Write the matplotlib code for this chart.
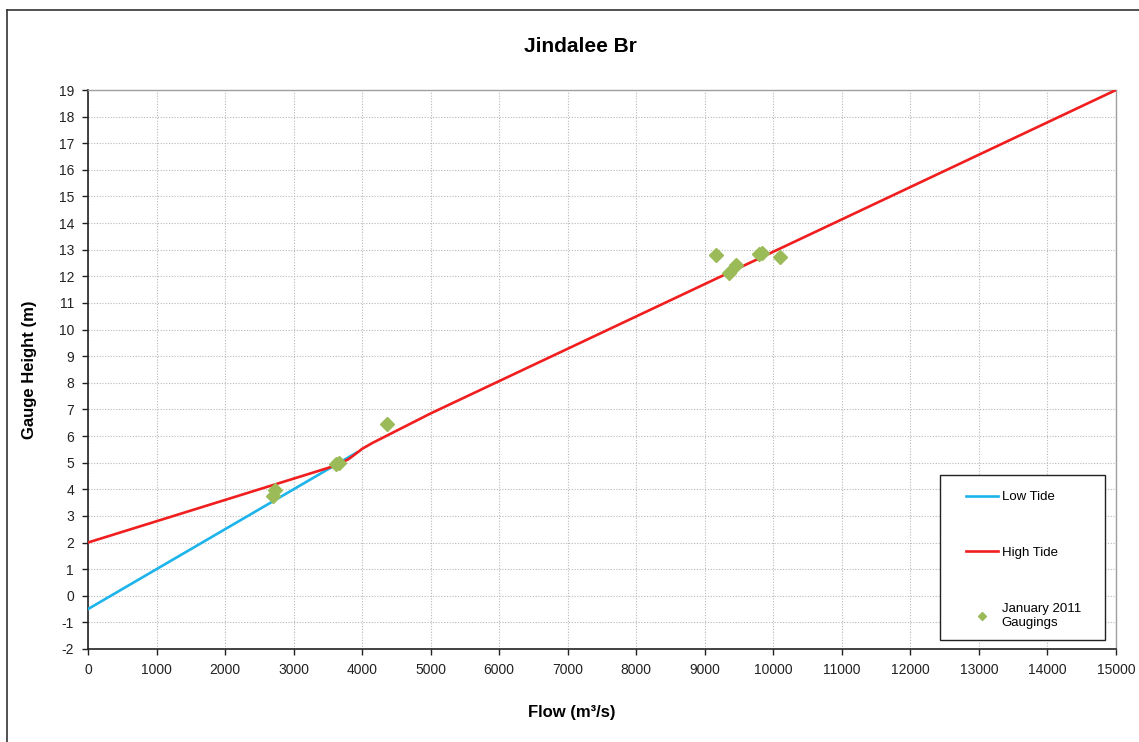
import matplotlib
matplotlib.use("Agg")
import matplotlib.pyplot as plt
from matplotlib.lines import Line2D
from matplotlib.patches import Rectangle

plt.rcParams['font.family'] = ['Liberation Sans', 'DejaVu Sans']
plt.rcParams['axes.unicode_minus'] = False

# Data
low_x = [0, 3920]
low_y = [-0.5, 5.38]
high_x = [0, 3000, 3500, 3650, 3800, 3900, 4000, 4150, 5000, 15000]
high_y = [2.0, 4.4, 4.8, 4.93, 5.13, 5.32, 5.52, 5.74, 6.85, 19.0]
gauge_x = [2700, 2730, 3620, 3660, 4360, 9160, 9360, 9460, 9790, 9830, 10100]
gauge_y = [3.75, 3.97, 4.95, 5.0, 6.44, 12.8, 12.12, 12.42, 12.84, 12.86, 12.74]
xticks = list(range(0, 15001, 1000))
yticks = list(range(-2, 20))

W, H = 1139, 742
fig = plt.figure(figsize=(W / 100, H / 100), dpi=100)
ax = fig.add_axes([88 / W, 1 - 649 / H, (1116 - 88) / W, (649 - 90) / H])

ax.plot(low_x, low_y, color='#1CB4EA', lw=1.9, label='Low Tide', zorder=3)
ax.plot(high_x, high_y, color='#F01E1E', lw=1.9, label='High Tide', zorder=4,
        solid_joinstyle='round')
ax.plot(gauge_x, gauge_y, linestyle='none', marker='D', markersize=7,
        color='#9BBB59', markeredgecolor='#9BBB59', zorder=5)
proxy = Line2D([], [], linestyle='none', marker='D', markersize=4,
               color='#9BBB59', label='January 2011\nGaugings')

ax.set_xlim(0, 15000)
ax.set_ylim(-2, 19)
ax.set_xticks(xticks)
ax.set_yticks(yticks)
ax.tick_params(axis='both', direction='out', length=4, width=1, labelsize=10,
               colors='#222222', pad=6)
ax.grid(True, linestyle=(0, (1, 1.5)), color='#B8B8B8', lw=0.8)
ax.set_axisbelow(True)
for s in ['top', 'right']:
    ax.spines[s].set_color('#A0A0A0')
    ax.spines[s].set_linewidth(1)
for s in ['left', 'bottom']:
    ax.spines[s].set_color('#222222')
    ax.spines[s].set_linewidth(1.2)

# legend box (frame drawn separately)
ax.add_patch(Rectangle(((940 - 88) / 1028, (649 - 640) / 559),
                       (1105 - 940) / 1028, (640 - 475) / 559,
                       transform=ax.transAxes, facecolor='white',
                       edgecolor='#222222', lw=1, zorder=6))
h1, l1 = ax.get_legend_handles_labels()
leg = ax.legend(h1 + [proxy], l1 + [proxy.get_label()],
                loc='upper left', bbox_to_anchor=((966 - 88) / 1028, (649 - 491) / 559),
                fontsize=9.5, frameon=False, labelspacing=3.3, handlelength=2.4,
                handletextpad=0.3, borderpad=0, borderaxespad=0)
for t in leg.get_texts():
    t.set_linespacing(1.3)
leg.set_zorder(7)

fig.text(580 / W, 1 - 47 / H, 'Jindalee Br', ha='center', va='center',
         fontsize=15, fontweight='bold')
fig.text(572 / W, 1 - 713 / H, 'Flow (m³/s)', ha='center', va='center',
         fontsize=12, fontweight='bold')
fig.text(30 / W, 1 - 370 / H, 'Gauge Height (m)', ha='center', va='center',
         rotation=90, fontsize=12, fontweight='bold')

# outer chart border (left and top edges visible)
fig.add_artist(Line2D([7 / W, 7 / W], [0, 1 - 10 / H], transform=fig.transFigure,
                      color='#333333', lw=1.2))
fig.add_artist(Line2D([7 / W, 1], [1 - 10 / H, 1 - 10 / H], transform=fig.transFigure,
                      color='#333333', lw=1.2))

fig.savefig('out.png', dpi=100)
